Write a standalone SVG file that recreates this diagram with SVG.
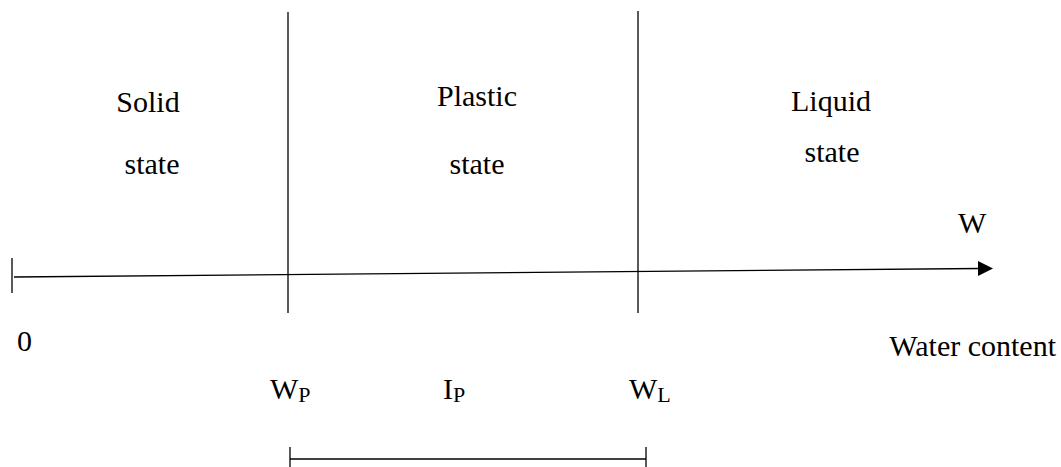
<svg xmlns="http://www.w3.org/2000/svg" width="1061" height="467" viewBox="0 0 1061 467">
<style>
  text { font-family: "Liberation Serif", "Times New Roman", serif; fill: #000; }
  .lbl { font-size: 30px; }
  .sub { font-size: 22px; }
  .ln { stroke: #000; stroke-width: 1.3; fill: none; }
</style>
<rect width="1061" height="467" fill="#fff"/>
<g id="connectors">
  <line class="ln" x1="14" y1="277" x2="980" y2="268.5"/>
  <polygon points="978,261 993,268.5 978,276" fill="#000"/>
  <line class="ln" x1="12" y1="258" x2="12" y2="293"/>
  <line class="ln" x1="288" y1="12" x2="288" y2="313"/>
  <line class="ln" x1="638" y1="11" x2="638" y2="313"/>
  <line class="ln" x1="290" y1="459" x2="646" y2="459"/>
  <line class="ln" x1="290" y1="447" x2="290" y2="467"/>
  <line class="ln" x1="646" y1="447" x2="646" y2="467"/>
</g>
<g id="solid">
  <text class="lbl" x="148" y="112" text-anchor="middle">Solid</text>
  <text class="lbl" x="152" y="174" text-anchor="middle">state</text>
</g>
<g id="plastic">
  <text class="lbl" x="477" y="106" text-anchor="middle">Plastic</text>
  <text class="lbl" x="477" y="174" text-anchor="middle">state</text>
</g>
<g id="liquid">
  <text class="lbl" x="831" y="111" text-anchor="middle">Liquid</text>
  <text class="lbl" x="832" y="162" text-anchor="middle">state</text>
</g>
<g id="axis-labels">
  <text class="lbl" x="958" y="233">W</text>
  <text class="lbl" x="17" y="351">0</text>
  <text class="lbl" x="1056" y="356" text-anchor="end">Water content</text>
</g>
<g id="limits">
  <text x="270" y="399"><tspan class="lbl">W</tspan><tspan class="sub" dy="3">P</tspan></text>
  <text x="443" y="399"><tspan class="lbl">I</tspan><tspan class="sub" dy="3">P</tspan></text>
  <text x="629" y="399"><tspan class="lbl">W</tspan><tspan class="sub" dy="3">L</tspan></text>
</g>
</svg>
